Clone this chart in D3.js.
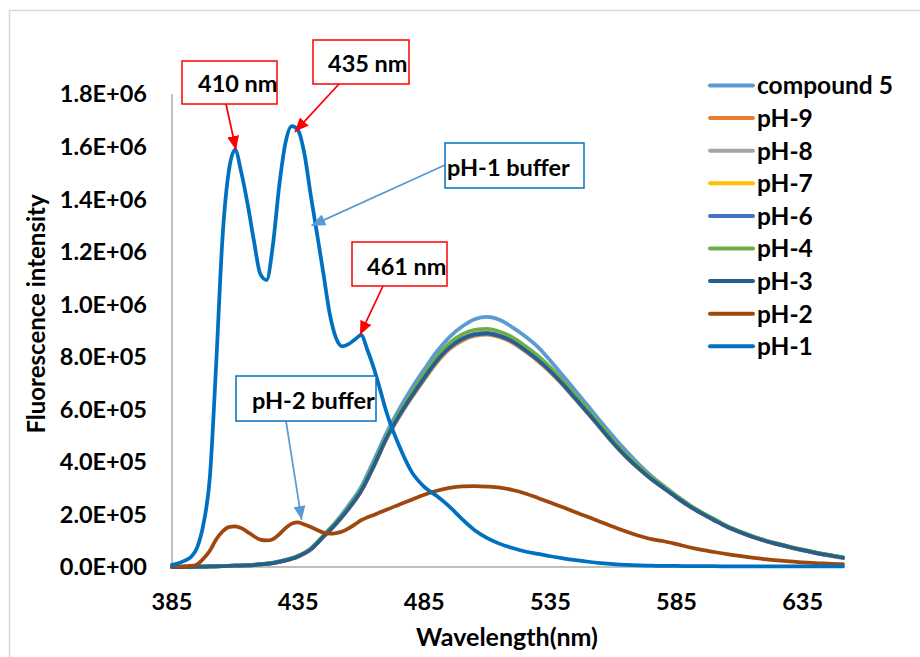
<!DOCTYPE html>
<html>
<head>
<meta charset="utf-8">
<script src="https://cdn.jsdelivr.net/npm/d3@7"></script>
<style>
  body { margin: 0; background: #fff; }
  text { font-family: Lato, "Open Sans", sans-serif; font-weight: bold; fill: #000; }
</style>
</head>
<body>
<svg id="chart" width="920" height="657"></svg>
<script>
// wavelength grid (nm) for the broad emission curves
var wl = [385,390,395,400,405,410,415,420,425,430,435,440,445,450,455,460,465,470,475,480,
  485,490,495,500,505,510,515,520,525,530,535,540,545,550,555,560,565,570,575,580,
  585,590,595,600,605,610,615,620,625,630,635,640,645,650,651];
// finer grid for pH-1 / pH-2 (sharp bands below 470 nm)
var wlFine = [385,387.5,390,392.5,395,397.5,400,402.5,405,407.5,410,412.5,415,417.5,420,422.5,
  425,427.5,430,432.5,435,437.5,440,442.5,445,447.5,450,452.5,455,457.5,460,462.5,465,467.5,470,
  475,480,485,490,495,500,505,510,515,520,525,530,535,540,545,550,555,560,565,570,575,580,
  585,590,595,600,605,610,615,620,625,630,635,640,645,650,651];

// intensities, in thousands
var compound5 = [0,0,1,2,3,5,7,11,17,27,43,70,120,172,235,305,405,510,600,680,752,820,875,915,943,952,940,912,878,838,785,728,670,612,553,496,442,392,347,308,271,237,207,181,155,135,117,101,88,76,65,55,46,38,36];
var pH9 = [0,0,1,2,3,5,6,10,15,25,40,66,114,163,220,288,382,486,570,644,713,778,829,861,879,884,874,853,821,784,741,692,637,582,526,470,419,374,334,299,264,231,203,177,152,132,114,99,86,74,63,53,44,36,34];
var pH8 = [0,0,1,2,3,5,6,10,15,25,40,67,115,164,221,289,384,488,573,648,718,783,833,865,882,887,877,857,824,787,744,694,639,584,527,471,420,375,335,300,265,232,204,178,153,133,115,100,87,75,64,54,45,37,35];
var pH7 = [0,0,1,2,3,5,6,10,15,25,41,68,116,166,223,291,386,491,576,651,722,787,837,869,886,890,880,860,827,790,747,697,642,587,530,473,422,377,337,301,266,233,205,179,154,134,116,101,88,76,65,55,46,38,36];
var pH6 = [0,0,1,2,3,5,6,10,15,25,41,68,116,166,223,292,387,492,577,652,723,788,838,870,887,891,881,861,828,791,748,698,643,587,530,473,422,377,337,301,266,233,205,179,154,134,116,101,88,76,65,55,46,38,36];
var pH4 = [0,0,1,2,3,5,7,11,16,26,42,70,119,170,228,297,393,498,585,662,734,800,852,885,902,906,895,874,841,804,760,709,653,597,540,482,430,384,343,306,270,237,208,182,156,136,118,102,89,77,66,56,47,39,37];
var pH3 = [0,0,1,2,3,5,6,10,15,25,40,67,115,165,222,290,385,490,575,650,720,785,835,867,884,888,878,858,825,788,745,695,640,585,528,471,420,375,335,300,265,232,204,178,153,133,115,100,87,75,64,54,45,37,35];
var pH2 = [2,2,3,4,10,32,62,105,135,152,155,148,133,117,104,101,106,124,148,165,170,162,152,141,131,127,129,135,147,162,178,189,198,208,218,
  237,256,275,290,301,307,308,306,302,293,280,263,245,227,208,190,171,153,135,119,106,98,87,75,65,57,49,42,36,30,25,21,18,15,13,11,11];
var pH1 = [8,14,24,38,75,165,340,770,1250,1505,1587,1500,1380,1240,1115,1092,1225,1450,1615,1678,1662,1572,1415,1268,1118,965,872,840,848,866,882,825,757,675,590,
  462,362,305,270,230,182,140,110,88,72,59,50,41,33,26,20,15,11,8,6,5,4,4,3,3,3,2,2,2,2,2,2,2,2,2,2,2];

var seriesNames = ["compound 5","pH-9","pH-8","pH-7","pH-6","pH-4","pH-3","pH-2","pH-1"];
var seriesValues = [compound5, pH9, pH8, pH7, pH6, pH4, pH3, pH2, pH1];
var seriesX = [wl, wl, wl, wl, wl, wl, wl, wlFine, wlFine];
var colors = ["#5B9BD5","#ED7D31","#A5A5A5","#FFC000","#4472C4","#70AD47","#255E91","#9E480E","#0070C0"];

var xTicks = [385,435,485,535,585,635];
var yTicks = [0,2e5,4e5,6e5,8e5,1e6,1.2e6,1.4e6,1.6e6,1.8e6];

// annotations: tip in data units (nm, counts), box in pixels
var callouts = [
  {text:"410 nm", tip:[410.4,1587e3], box:[182,61,95,43], from:[226,104], tx:198, ty:92, color:"#FF0000", arrow:"#FF0000"},
  {text:"435 nm", tip:[433.7,1656e3], box:[313,40,96,44], from:[339,84], tx:328, ty:72, color:"#FF0000", arrow:"#FF0000"},
  {text:"461 nm", tip:[459.5,883e3], box:[352,242,95,44], from:[383,286], tx:367, ty:275, color:"#FF0000", arrow:"#FF0000"},
  {text:"pH-1 buffer", tip:[440.3,1299e3], box:[445,143,139,45], from:[445,165], tx:447, ty:176, color:"#0070C0", arrow:"#5B9BD5"},
  {text:"pH-2 buffer", tip:[436.4,179e3], box:[236,376,140,45], from:[286,421], tx:252, ty:409, color:"#0070C0", arrow:"#5B9BD5"}
];

var svg = d3.select("#chart");
var x = d3.scaleLinear().domain([385, 651]).range([172, 843]);
var y = d3.scaleLinear().domain([0, 1.8e6]).range([567, 94]);

function sci(v) {
  if (v === 0) return "0.0E+00";
  var e = Math.floor(Math.log10(v) + 1e-9);
  return (v / Math.pow(10, e)).toFixed(1) + "E+" + (e < 10 ? "0" : "") + e;
}

// chart border
svg.append("rect").attr("x", 9.5).attr("y", 10.5).attr("width", 920).attr("height", 660)
  .attr("fill", "none").attr("stroke", "#D9D9D9").attr("stroke-width", 1.5);

// axes lines
svg.append("line").attr("x1", x(385)).attr("x2", x(385)).attr("y1", y(0)).attr("y2", y(1.8e6))
  .attr("stroke", "#BFBFBF").attr("stroke-width", 2);
svg.append("line").attr("x1", x(385)).attr("x2", x(651)).attr("y1", y(0)).attr("y2", y(0))
  .attr("stroke", "#BFBFBF").attr("stroke-width", 2);

// tick labels
svg.selectAll(".ylab").data(yTicks).enter().append("text")
  .attr("x", 147).attr("y", function(d){ return y(d); }).attr("dy", "0.36em")
  .attr("text-anchor", "end").style("font-size", "23.5px").text(sci);
svg.selectAll(".xlab").data(xTicks).enter().append("text")
  .attr("x", function(d){ return x(d); }).attr("y", 610)
  .attr("text-anchor", "middle").style("font-size", "23.5px").text(function(d){ return d; });

// axis titles
svg.append("text").attr("x", 507).attr("y", 646).attr("text-anchor", "middle")
  .style("font-size", "25px").text("Wavelength(nm)");
svg.append("text").attr("transform", "translate(45,314) rotate(-90)").attr("text-anchor", "middle")
  .style("font-size", "24px").text("Fluorescence intensity");

// series
var line = d3.line().curve(d3.curveMonotoneX);
seriesValues.forEach(function(vals, i) {
  var pts = vals.map(function(v, j){ return [x(seriesX[i][j]), y(v * 1000)]; });
  svg.append("path").attr("d", line(pts)).attr("fill", "none")
    .attr("stroke", colors[i]).attr("stroke-width", 3.75)
    .attr("stroke-linejoin", "round").attr("stroke-linecap", "round");
});

// legend
var leg = svg.append("g");
seriesNames.forEach(function(name, i) {
  var ly = 85.5 + i * 32.6;
  leg.append("line").attr("x1", 710).attr("x2", 753).attr("y1", ly).attr("y2", ly)
    .attr("stroke", colors[i]).attr("stroke-width", 4).attr("stroke-linecap", "round");
  leg.append("text").attr("x", 757).attr("y", ly).attr("dy", "0.36em")
    .style("font-size", "24.5px").text(name);
});

// arrowheads
var defs = svg.append("defs");
["#FF0000", "#5B9BD5"].forEach(function(c, i) {
  defs.append("marker").attr("id", "ah" + i).attr("markerUnits", "userSpaceOnUse")
    .attr("viewBox", "0 0 14 12").attr("refX", 14).attr("refY", 6)
    .attr("markerWidth", 14).attr("markerHeight", 12).attr("orient", "auto")
    .append("path").attr("d", "M0,0L14,6L0,12z").attr("fill", c);
});

// callouts
callouts.forEach(function(c) {
  svg.append("line").attr("x1", c.from[0]).attr("y1", c.from[1])
    .attr("x2", x(c.tip[0])).attr("y2", y(c.tip[1]))
    .attr("stroke", c.arrow).attr("stroke-width", 1.75)
    .attr("marker-end", "url(#ah" + (c.arrow === "#FF0000" ? 0 : 1) + ")");
  svg.append("rect").attr("x", c.box[0]).attr("y", c.box[1])
    .attr("width", c.box[2]).attr("height", c.box[3])
    .attr("fill", "#fff").attr("stroke", c.color).attr("stroke-width", 1.5);
  svg.append("text").attr("x", c.tx).attr("y", c.ty)
    .style("font-size", "23.5px").text(c.text);
});
</script>
</body>
</html>
